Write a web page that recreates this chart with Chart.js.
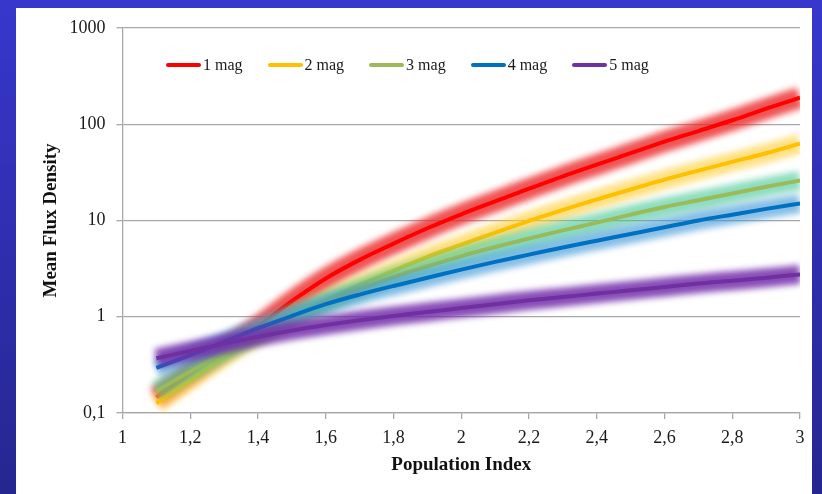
<!DOCTYPE html>
<html>
<head>
<meta charset="utf-8">
<title>Mean Flux Density vs Population Index</title>
<script src="https://cdn.jsdelivr.net/npm/chart.js@4.4.0/dist/chart.umd.min.js"></script>
<style>
  html, body { margin: 0; padding: 0; }
  body {
    width: 822px; height: 494px; overflow: hidden; position: relative;
    background: linear-gradient(#3737cd, #262690);
    font-family: "Liberation Serif", "Times New Roman", serif;
  }
  #panel { position: absolute; left: 16px; top: 8px; width: 796px; height: 486px; background: #fff; }
  #wrap { position: absolute; left: 0; top: 0; width: 822px; height: 494px; }
  #legend {
    position: absolute; left: 166px; top: 54px; display: flex; gap: 25px;
    font-size: 16px; color: #1a1a1a; line-height: 22px;
  }
  #legend .item { display: flex; align-items: center; }
  #legend .swatch { width: 35px; height: 4px; border-radius: 2px; margin-right: 2px; }
</style>
</head>
<body>
<div id="panel"></div>
<div id="wrap"><canvas id="chart" width="822" height="494"></canvas></div>
<div id="legend"></div>
<script>
// x values (population index)
const popIndex = [1.1, 1.2, 1.3, 1.4, 1.5, 1.6, 1.7, 1.8, 1.9, 2.0,
                  2.1, 2.2, 2.3, 2.4, 2.5, 2.6, 2.7, 2.8, 2.9, 3.0];

// mean flux density per magnitude
const mag1 = [0.145, 0.26, 0.46, 0.79, 1.45, 2.5, 3.9, 5.75, 8.3, 11.6,
              15.8, 21.4, 28.8, 38, 50, 66, 85, 110, 145, 189];
const mag2 = [0.126, 0.22, 0.385, 0.64, 0.99, 1.48, 2.14, 3.0, 4.2, 5.6,
              7.5, 9.9, 12.9, 16.6, 21, 26.6, 33, 40.7, 50, 63];
const mag3 = [0.17, 0.27, 0.43, 0.66, 0.98, 1.41, 1.95, 2.6, 3.35, 4.27,
              5.3, 6.5, 7.9, 9.5, 11.5, 13.8, 16.2, 19.1, 22.4, 26];
const mag4 = [0.295, 0.4, 0.55, 0.76, 1.02, 1.35, 1.7, 2.09, 2.54, 3.09,
              3.72, 4.42, 5.25, 6.17, 7.24, 8.5, 10, 11.5, 13.2, 15];
const mag5 = [0.37, 0.44, 0.525, 0.62, 0.72, 0.82, 0.92, 1.02, 1.12, 1.23,
              1.35, 1.48, 1.6, 1.74, 1.88, 2.04, 2.21, 2.37, 2.54, 2.75];

const seriesNames = ['1 mag', '2 mag', '3 mag', '4 mag', '5 mag'];
const seriesValues = [mag1, mag2, mag3, mag4, mag5];
const lineColors = ['#ff0000', '#ffc000', '#9bbb59', '#0070c0', '#7030a0'];
const glowColors = ['rgba(235,40,40,0.8)', 'rgba(255,205,50,0.62)', 'rgba(70,200,150,0.62)',
                    'rgba(60,150,215,0.62)', 'rgba(115,45,170,0.85)'];
const yTicks = [0.1, 1, 10, 100, 1000];

const gridGray = '#a8a8a8';
const serif = 'Liberation Serif';

// each series = a blurred wide band + a thin line; later series sit on top
const datasets = [];
seriesValues.forEach((vals, i) => {
    const pts = popIndex.map((x, j) => ({ x: x, y: vals[j] }));
    const base = 2 * (seriesValues.length - 1 - i);
    datasets.push({
        label: seriesNames[i] + ' glow',
        data: pts,
        glow: true,
        borderColor: glowColors[i],
        borderWidth: i === 0 ? 21 : 19,
        borderCapStyle: 'butt',
        pointRadius: 0,
        cubicInterpolationMode: 'monotone',
        order: base + 1,
        clip: { left: 0, top: false, right: 0, bottom: false }
    });
    datasets.push({
        label: seriesNames[i],
        data: pts,
        borderColor: lineColors[i],
        backgroundColor: lineColors[i],
        borderWidth: 4,
        borderCapStyle: 'butt',
        pointRadius: 0,
        cubicInterpolationMode: 'monotone',
        order: base
    });
});

const glowPlugin = {
    id: 'glow',
    beforeDatasetDraw(chart, args) {
        chart.ctx.save();
        if (chart.data.datasets[args.index].glow) chart.ctx.filter = 'blur(3px)';
    },
    afterDatasetDraw(chart) {
        chart.ctx.restore();
    }
};

const fmtX = v => String(Math.round(v * 10) / 10).replace('.', ',');

new Chart(document.getElementById('chart').getContext('2d'), {
    type: 'line',
    data: { datasets: datasets },
    plugins: [glowPlugin],
    options: {
        responsive: false,
        animation: false,
        layout: { padding: { left: 16, top: 28, right: 22, bottom: 0 } },
        plugins: {
            legend: { display: false },
            tooltip: { enabled: false }
        },
        scales: {
            x: {
                type: 'linear',
                min: 1,
                max: 3,
                ticks: {
                    stepSize: 0.2,
                    autoSkip: false,
                    maxRotation: 0,
                    padding: 8,
                    color: '#1a1a1a',
                    font: { family: serif, size: 18 },
                    callback: v => fmtX(v)
                },
                grid: { drawOnChartArea: false, color: gridGray, tickLength: 6, lineWidth: 1.3 },
                border: { color: gridGray, width: 1.3 },
                title: {
                    display: true,
                    text: 'Population Index',
                    color: '#111',
                    font: { family: serif, size: 19, weight: 'bold' },
                    padding: { top: 2, bottom: 18 }
                },
                afterFit(scale) { scale.height = 81; }
            },
            y: {
                type: 'logarithmic',
                min: 0.1,
                max: 1000,
                afterBuildTicks(scale) { scale.ticks = yTicks.map(v => ({ value: v })); },
                ticks: {
                    padding: 11,
                    color: '#1a1a1a',
                    font: { family: serif, size: 18 },
                    callback: v => String(v).replace('.', ',')
                },
                grid: { color: gridGray, tickLength: 6, lineWidth: 1.3 },
                border: { color: gridGray, width: 1.3 },
                title: {
                    display: true,
                    text: 'Mean Flux Density',
                    color: '#111',
                    font: { family: serif, size: 19, weight: 'bold' },
                    padding: { top: 24, bottom: 0 }
                },
                afterFit(scale) { scale.width = 106.5; }
            }
        }
    }
});

// legend sits inside the plot, built from the same names and colours
const legend = document.getElementById('legend');
seriesNames.forEach((name, i) => {
    const item = document.createElement('div');
    item.className = 'item';
    const sw = document.createElement('span');
    sw.className = 'swatch';
    sw.style.background = lineColors[i];
    const txt = document.createElement('span');
    txt.textContent = name;
    item.appendChild(sw);
    item.appendChild(txt);
    legend.appendChild(item);
});
</script>
</body>
</html>
